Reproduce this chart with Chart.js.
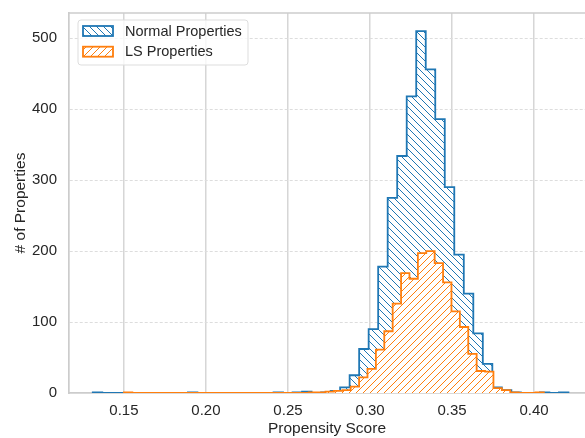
<!DOCTYPE html>
<html>
<head>
<meta charset="utf-8">
<script src="https://cdn.jsdelivr.net/npm/chart.js@4.4.1/dist/chart.umd.min.js"></script>
<style>
  html, body { margin: 0; padding: 0; background: #fff; }
  canvas { display: block; }
</style>
</head>
<body>
<canvas id="chart" width="585" height="438"></canvas>
<script>
// two histograms, 50 bins each, every series has its own bin edges
const normalLabel = "Normal Properties";
const normalStart = 0.131;
const normalWidth = 0.0058;
const normalCounts = [1, 0, 0, 0, 0, 0, 0, 0, 0, 0,
                      1, 0, 0, 0, 0, 0, 0, 0, 0, 1,
                      0, 1, 2, 0, 1, 3, 8, 25, 62, 90,
                      178, 275, 334, 418, 510, 456, 386, 290, 195, 140,
                      84, 41, 8, 4, 1, 0, 0, 1, 0, 1];

const lsLabel = "LS Properties";
const lsStart = 0.150;
const lsWidth = 0.00512;
const lsCounts = [1, 0, 0, 0, 0, 0, 0, 0, 0, 0,
                  0, 0, 0, 0, 0, 0, 0, 0, 0, 0,
                  0, 0, 1, 1, 2, 3, 4, 9, 22, 34,
                  61, 87, 126, 169, 161, 197, 200, 183, 156, 115,
                  93, 55, 31, 30, 7, 4, 1, 0, 0, 1];

const xTicks = [0.15, 0.20, 0.25, 0.30, 0.35, 0.40];
const yTicks = [0, 100, 200, 300, 400, 500];

const FONT = '"Liberation Sans", Arial, sans-serif';
const TEXT = "#262626";

// outline points of a step histogram (bin edge -> count)
function stepPoints(start, width, counts) {
  var pts = [{ x: start, y: 0 }];
  for (var i = 0; i < counts.length; i++) {
    pts.push({ x: start + i * width, y: counts[i] });
  }
  var end = start + counts.length * width;
  pts.push({ x: end, y: counts[counts.length - 1] });
  pts.push({ x: end, y: 0 });
  return pts;
}

const canvas = document.getElementById("chart");
const ctx = canvas.getContext("2d");

// white tile with one diagonal hatch line
function hatch(color, dir) {
  var s = 7;
  var tile = document.createElement("canvas");
  tile.width = s;
  tile.height = s;
  var g = tile.getContext("2d");
  g.fillStyle = "#fff";
  g.fillRect(0, 0, s, s);
  g.strokeStyle = color;
  g.lineWidth = 1;
  g.beginPath();
  if (dir === "/") {
    g.moveTo(0, s); g.lineTo(s, 0);
    g.moveTo(-1, 1); g.lineTo(1, -1);
    g.moveTo(s - 1, s + 1); g.lineTo(s + 1, s - 1);
  } else {
    g.moveTo(0, 0); g.lineTo(s, s);
    g.moveTo(-1, s - 1); g.lineTo(1, s + 1);
    g.moveTo(s - 1, -1); g.lineTo(s + 1, 1);
  }
  g.stroke();
  return ctx.createPattern(tile, "repeat");
}

const boxLegend = {
  id: "boxLegend",
  afterDraw(chart) {
    const c = chart.ctx;
    const a = chart.chartArea;
    c.save();
    // top spine
    c.strokeStyle = "#cccccc";
    c.lineWidth = 1.7;
    c.beginPath();
    c.moveTo(a.left, a.top);
    c.lineTo(a.right, a.top);
    c.stroke();
    // legend frame
    const x = a.left + 9, y = a.top + 7, w = 170, h = 45;
    c.beginPath();
    c.roundRect(x, y, w, h, 3);
    c.fillStyle = "rgba(255,255,255,0.8)";
    c.fill();
    c.strokeStyle = "#dddddd";
    c.lineWidth = 1;
    c.stroke();
    chart.data.datasets.forEach(function (ds, i) {
      const ry = y + 6 + i * 20.7;
      c.fillStyle = ds.backgroundColor;
      c.fillRect(x + 5, ry, 30, 10);
      c.strokeStyle = ds.borderColor;
      c.lineWidth = 1.8;
      c.strokeRect(x + 5, ry, 30, 10);
      c.fillStyle = TEXT;
      c.font = "14.5px " + FONT;
      c.textBaseline = "middle";
      c.textAlign = "left";
      c.fillText(ds.label, x + 47, ry + 5.5);
    });
    c.restore();
  }
};

new Chart(ctx, {
  type: "line",
  data: {
    datasets: [
      {
        label: normalLabel,
        data: stepPoints(normalStart, normalWidth, normalCounts),
        borderColor: "#1f77b4",
        backgroundColor: hatch("#1f77b4", "\\"),
        fill: "origin",
        stepped: "before",
        borderWidth: 1.8,
        pointRadius: 0,
        order: 1
      },
      {
        label: lsLabel,
        data: stepPoints(lsStart, lsWidth, lsCounts),
        borderColor: "#ff7f0e",
        backgroundColor: hatch("#ff7f0e", "/"),
        fill: "origin",
        stepped: "before",
        borderWidth: 1.8,
        pointRadius: 0,
        order: 0
      }
    ]
  },
  options: {
    responsive: false,
    animation: false,
    devicePixelRatio: 1,
    layout: { padding: { top: 13, right: 0, left: 0, bottom: 0 } },
    plugins: { legend: { display: false }, tooltip: { enabled: false } },
    scales: {
      x: {
        type: "linear",
        min: 0.1165,
        max: 0.4311,
        afterBuildTicks: function (axis) { axis.ticks = xTicks.map(function (v) { return { value: v }; }); },
        afterFit: function (axis) { axis.height = 45; axis.paddingLeft = 0; axis.paddingRight = 0; },
        ticks: {
          color: TEXT,
          padding: 9,
          font: { family: FONT, size: 15 },
          callback: function (v) { return v.toFixed(2); }
        },
        grid: { color: "#d6d6d6", lineWidth: 1.5, drawTicks: false },
        border: { color: "#cccccc", width: 1.7 },
        title: {
          display: true,
          text: "Propensity Score",
          color: TEXT,
          font: { family: FONT, size: 15.5 },
          padding: { top: 0, bottom: 0 }
        }
      },
      y: {
        min: 0,
        max: 535.5,
        afterBuildTicks: function (axis) { axis.ticks = yTicks.map(function (v) { return { value: v }; }); },
        afterFit: function (axis) { axis.width = 69; axis.paddingTop = 0; axis.paddingBottom = 0; },
        ticks: {
          color: TEXT,
          padding: 12,
          font: { family: FONT, size: 15 }
        },
        grid: {
          color: function (c) { return c.tick && c.tick.value === 0 ? "rgba(0,0,0,0)" : "#dddddd"; },
          lineWidth: 1,
          drawTicks: false
        },
        border: { color: "#cccccc", width: 1.7, dash: [3, 2] },
        title: {
          display: true,
          text: "# of Properties",
          color: TEXT,
          font: { family: FONT, size: 15.5 },
          padding: { top: 11, bottom: 0 }
        }
      }
    }
  },
  plugins: [boxLegend]
});
</script>
</body>
</html>
